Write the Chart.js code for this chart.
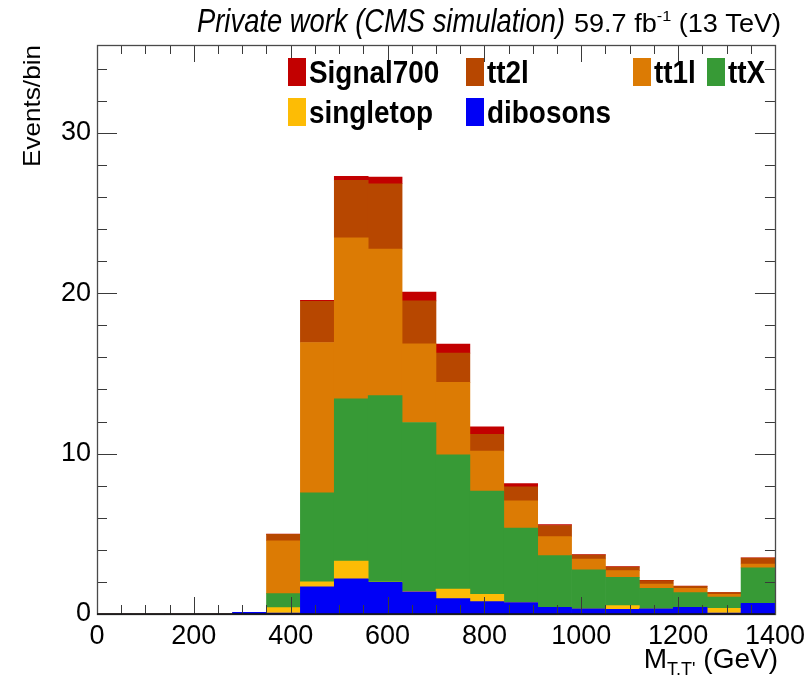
<!DOCTYPE html>
<html>
<head>
<meta charset="utf-8">
<script src="https://cdn.jsdelivr.net/npm/chart.js@4.4.1/dist/chart.umd.min.js"></script>
<style>
  html, body { margin: 0; padding: 0; background: #fff; }
  #wrap { width: 811px; height: 675px; }
</style>
</head>
<body>
<div id="wrap"><canvas id="mtt" width="811" height="675"></canvas></div>
<script>
// M_{T,T'} distribution, 70 GeV bins, stacked from the bottom up
const binLow = [0, 70, 140, 210, 280, 350, 420, 490, 560, 630, 700, 770, 840, 910, 980, 1050, 1120, 1190, 1260, 1330];
const binWidth = 70;

const dibosons  = [0, 0, 0, 0, 0.10, 0.05, 1.70, 2.20, 1.97, 1.39, 0.96, 0.77, 0.71, 0.41, 0.33, 0.29, 0.33, 0.41, 0.06, 0.67];
const singletop = [0, 0, 0, 0, 0, 0.35, 0.31, 1.10, 0.02, 0.03, 0.59, 0.45, 0.01, 0, 0, 0.23, 0, 0, 0.29, 0];
const ttX       = [0, 0, 0, 0, 0, 0.87, 5.55, 10.12, 11.63, 10.52, 8.37, 6.44, 4.64, 3.23, 2.43, 1.77, 1.27, 0.92, 0.71, 2.21];
const tt1l      = [0, 0, 0, 0, 0, 3.30, 9.37, 10.03, 9.14, 4.90, 4.52, 2.50, 1.70, 1.18, 0.67, 0.41, 0.27, 0.27, 0.17, 0.24];
const tt2l      = [0, 0, 0, 0, 0, 0.40, 2.57, 3.59, 4.07, 2.68, 1.83, 1.05, 0.87, 0.70, 0.25, 0.23, 0.21, 0.13, 0.11, 0.37];
const signal700 = [0, 0, 0, 0, 0, 0.02, 0.06, 0.25, 0.42, 0.56, 0.56, 0.46, 0.21, 0.05, 0.02, 0.02, 0.02, 0.01, 0.01, 0.02];

const xTicks = [0, 200, 400, 600, 800, 1000, 1200, 1400];
const yTicks = [0, 10, 20, 30];
const yMax = 35.48;

const colors = {
  Signal700: '#c20000',
  tt2l: '#b74700',
  tt1l: '#dc7b04',
  ttX: '#379a36',
  singletop: '#fdbc05',
  dibosons: '#0000f6'
};

function series(label, values) {
  return {
    label: label,
    data: values.map((v, i) => ({ x: binLow[i] + binWidth / 2, y: v })),
    backgroundColor: colors[label],
    borderWidth: 0,
    barPercentage: 1.0,
    categoryPercentage: 1.0
  };
}

const FONT = '"Liberation Sans", Arial, Helvetica, sans-serif';

// text squeezed/stretched horizontally by sx
function drawScaled(ctx, text, x, y, font, sx, align) {
  ctx.save();
  ctx.font = font;
  ctx.translate(x, y);
  ctx.scale(sx, 1);
  ctx.textAlign = align || 'left';
  ctx.textBaseline = 'alphabetic';
  ctx.fillText(text, 0, 0);
  ctx.restore();
}

// frame, inward ticks on all four sides, titles and legend
const rootStyle = {
  id: 'rootStyle',
  afterDatasetsDraw(chart) {
    const ctx = chart.ctx;
    const a = chart.chartArea;
    const xs = chart.scales.x, ys = chart.scales.y;
    ctx.save();
    ctx.strokeStyle = '#3a3a3a';
    ctx.lineWidth = 1;
    ctx.beginPath();
    for (let v = 0; v <= 1400; v += 50) {
      const px = Math.round(xs.getPixelForValue(v)) + 0.5;
      const len = v % 200 === 0 ? 17 : 9;
      ctx.moveTo(px, a.bottom); ctx.lineTo(px, a.bottom - len);
      ctx.moveTo(px, a.top); ctx.lineTo(px, a.top + len);
    }
    for (let v = 0; v <= yMax; v += 2) {
      const py = Math.round(ys.getPixelForValue(v)) + 0.5;
      const len = v % 10 === 0 ? 20 : 10;
      ctx.moveTo(a.left, py); ctx.lineTo(a.left + len, py);
      ctx.moveTo(a.right, py); ctx.lineTo(a.right - len, py);
    }
    ctx.stroke();
    ctx.strokeStyle = '#4a4a4a';
    ctx.lineWidth = 1.3;
    ctx.strokeRect(Math.round(a.left) + 0.5, Math.round(a.top) + 0.5, Math.round(a.right - a.left), Math.round(a.bottom - a.top));
    ctx.strokeStyle = '#111';
    ctx.beginPath();
    ctx.moveTo(a.left, a.bottom); ctx.lineTo(a.right, a.bottom);
    ctx.stroke();
    ctx.restore();
  },
  afterDraw(chart) {
    const ctx = chart.ctx;
    ctx.save();
    ctx.fillStyle = '#000';

    // header
    const left = 'Private work (CMS simulation)';
    ctx.font = 'italic 33px ' + FONT;
    const lw = ctx.measureText(left).width;
    drawScaled(ctx, left, 197, 32, 'italic 33px ' + FONT, 368 / lw);

    const big = '25px ' + FONT, small = '15px ' + FONT;
    ctx.font = big;
    const w1 = ctx.measureText('59.7 fb').width;
    const w3 = ctx.measureText(' (13 TeV)').width;
    ctx.font = small;
    const w2 = ctx.measureText('-1').width;
    const sx = 207 / (w1 + w2 + w3);
    let x = 574;
    drawScaled(ctx, '59.7 fb', x, 32, big, sx); x += w1 * sx;
    drawScaled(ctx, '-1', x, 21, small, sx); x += w2 * sx;
    drawScaled(ctx, ' (13 TeV)', x, 32, big, sx);

    // y title, aligned to the top of the axis
    ctx.save();
    ctx.font = '24px ' + FONT;
    const yt = 'Events/bin';
    const ytw = ctx.measureText(yt).width;
    ctx.translate(40, 45);
    ctx.rotate(-Math.PI / 2);
    ctx.scale(122 / ytw, 1);
    ctx.textAlign = 'right';
    ctx.fillText(yt, 0, 0);
    ctx.restore();

    // x title, aligned to the right end of the axis
    ctx.font = '28px ' + FONT;
    const wM = ctx.measureText('M').width;
    const wG = ctx.measureText(' (GeV)').width;
    ctx.font = '18px ' + FONT;
    const wS = ctx.measureText("T,T'").width;
    let tx = 778 - (wM + wS + wG);
    ctx.font = '28px ' + FONT;
    ctx.fillText('M', tx, 668); tx += wM;
    ctx.font = '18px ' + FONT;
    ctx.fillText("T,T'", tx, 675); tx += wS;
    ctx.font = '28px ' + FONT;
    ctx.fillText(' (GeV)', tx, 668);

    // legend, four columns in two rows
    const order = ['Signal700', 'tt2l', 'tt1l', 'ttX', 'singletop', 'dibosons'];
    const cols = [288, 466, 633, 707];
    const rows = [72, 112];
    order.forEach((name, i) => {
      const ds = chart.data.datasets.find(d => d.label === name);
      const cx = cols[i < 4 ? i : i - 4];
      const cy = rows[i < 4 ? 0 : 1];
      ctx.fillStyle = ds.backgroundColor;
      ctx.fillRect(cx, cy - 14, 18, 28);
      ctx.fillStyle = '#000';
      drawScaled(ctx, name, cx + 21, cy + 11, 'bold 31px ' + FONT, 0.9);
    });
    ctx.restore();
  }
};

new Chart(document.getElementById('mtt'), {
  type: 'bar',
  data: {
    datasets: [
      series('dibosons', dibosons),
      series('singletop', singletop),
      series('ttX', ttX),
      series('tt1l', tt1l),
      series('tt2l', tt2l),
      series('Signal700', signal700)
    ]
  },
  options: {
    responsive: false,
    animation: false,
    layout: { padding: { top: 45, right: 32, left: 0, bottom: 0 } },
    plugins: {
      legend: { display: false },
      tooltip: { enabled: false }
    },
    scales: {
      x: {
        type: 'linear',
        stacked: true,
        offset: false,
        min: 0,
        max: 1400,
        grid: { display: false, drawTicks: false, offset: false },
        border: { display: false },
        afterBuildTicks: (s) => { s.ticks = xTicks.map(v => ({ value: v })); },
        afterFit: (s) => { s.height = 61; },
        ticks: {
          padding: 6,
          maxRotation: 0,
          autoSkip: false,
          color: '#000',
          font: { family: FONT, size: 27 },
          callback: (v) => String(v)
        }
      },
      y: {
        stacked: true,
        min: 0,
        max: yMax,
        grid: { display: false, drawTicks: false },
        border: { display: false },
        afterBuildTicks: (s) => { s.ticks = yTicks.map(v => ({ value: v })); },
        afterFit: (s) => { s.width = 97; },
        ticks: {
          padding: 6,
          color: '#000',
          font: { family: FONT, size: 27 },
          callback: (v) => String(v)
        }
      }
    }
  },
  plugins: [rootStyle]
});
</script>
</body>
</html>
